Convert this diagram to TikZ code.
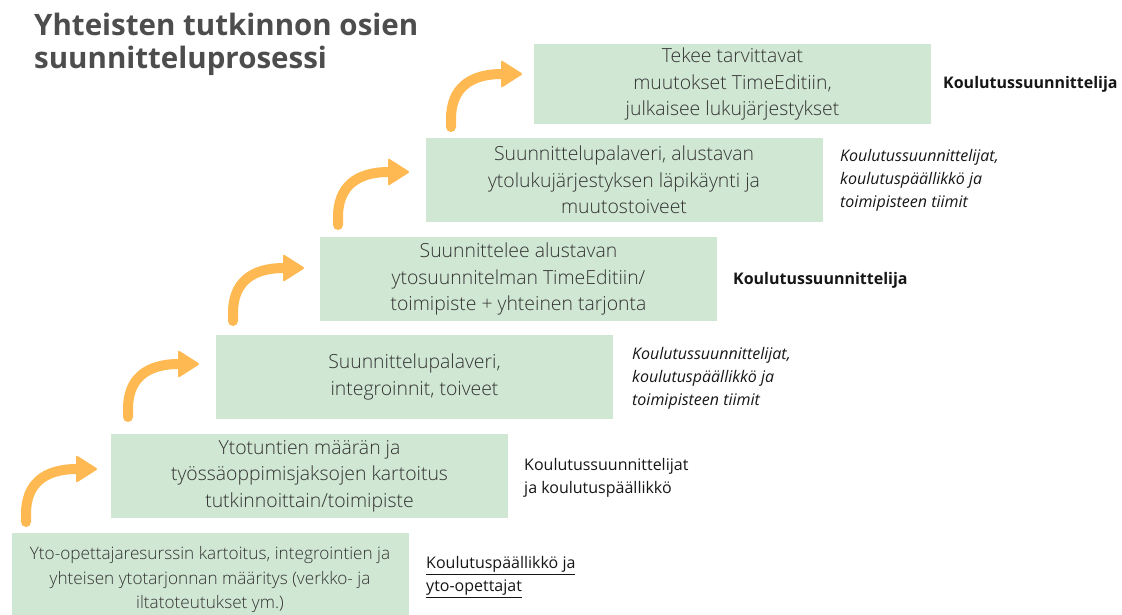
\documentclass[tikz,border=0pt]{standalone}
\usepackage{fontspec}
\setmainfont{Open Sans}
\IfFontExistsTF{Open Sans Light}
  {\newfontfamily\lightfont{Open Sans Light}\def\boxsize{19.4}\def\boxonesize{17.2}}
  {\newfontfamily\lightfont{Open Sans}\def\boxsize{18.7}\def\boxonesize{16.6}}
\begin{document}
\begin{tikzpicture}[x=1pt,y=-1pt]
\definecolor{boxgreen}{HTML}{D0E7D3}
\definecolor{arroworange}{HTML}{FFB952}
\definecolor{boxtxt}{HTML}{333333}
\definecolor{titlegray}{HTML}{4D4D4D}
\definecolor{lbl}{HTML}{161616}
\tikzset{
  stepbox/.style={fill=boxgreen, draw=none, minimum width=397pt, minimum height=84pt, inner sep=0pt,
    align=center, text=boxtxt, font=\lightfont\fontsize{\boxsize}{26.5}\selectfont},
  boxtext/.style={align=center, text=boxtxt, font=\lightfont\fontsize{\boxonesize}{24.5}\selectfont, inner sep=0pt},
  rolebold/.style={anchor=west, inner sep=0pt, text=lbl, font=\fontsize{16}{18}\selectfont\bfseries},
  roleit/.style={anchor=west, inner sep=0pt, align=left, text=lbl, font=\fontsize{16}{23}\selectfont\itshape},
  roleplain/.style={anchor=west, inner sep=0pt, align=left, text=lbl, font=\fontsize{16}{23}\selectfont},
  steparrow/.pic={
    \draw[arroworange, line width=10pt, line cap=round]
      (0,0) -- (0,-8) .. controls (0,-38) and (18,-53) .. (51,-53);
    \fill[arroworange, rounded corners=2pt] (50,-67) -- (72,-53) -- (50,-39) -- cycle;
  }
}
\useasboundingbox (0,0) rectangle (1122,615);

% title
\node[anchor=north west, inner sep=0pt, align=left, text=titlegray,
  font=\fontsize{29.5}{33}\selectfont\bfseries] (title) at (34,13)
  {Yhteisten tutkinnon osien\\suunnitteluprosessi};

% boxes
\node[stepbox, minimum height=82pt] (b1) at (210,574) {};
\node[boxtext] (t1) at (210,580) {Yto-opettajaresurssin kartoitus, integrointien ja\\yhteisen ytotarjonnan määritys (verkko- ja\\iltatoteutukset ym.)};
\node[stepbox] (b2) at (309.5,476) {Ytotuntien määrän ja\\työssäoppimisjaksojen kartoitus\\tutkinnoittain/toimipiste};
\node[stepbox] (b3) at (414.5,377) {Suunnittelupalaveri,\\integroinnit, toiveet};
\node[stepbox] (b4) at (518.5,279) {Suunnittelee alustavan\\ytosuunnitelman TimeEditiin/\\toimipiste + yhteinen tarjonta};
\node[stepbox] (b5) at (624,180) {Suunnittelupalaveri, alustavan\\ytolukujärjestyksen läpikäynti ja\\muutostoiveet};
\node[stepbox, minimum height=80pt] (b6) at (732.5,84) {Tekee tarvittavat\\muutokset TimeEditiin,\\julkaisee lukujärjestykset};

% arrows
\pic at (26,522) {steparrow};
\pic at (128,417) {steparrow};
\pic at (233,321) {steparrow};
\pic at (338,225) {steparrow};
\pic at (451,127) {steparrow};

% roles
\node[roleplain] (r1) at (426,577) {\underline{Koulutuspäällikkö ja}\\\underline{yto-opettajat}};
\node[roleplain] (r2) at (524,478) {Koulutussuunnittelijat\\ja koulutuspäällikkö};
\node[roleit] (r3) at (632,378) {Koulutussuunnittelijat,\\koulutuspäällikkö ja\\toimipisteen tiimit};
\node[rolebold] (r4) at (733,280) {Koulutussuunnittelija};
\node[roleit] (r5) at (840,180) {Koulutussuunnittelijat,\\koulutuspäällikkö ja\\toimipisteen tiimit};
\node[rolebold] (r6) at (943,84) {Koulutussuunnittelija};
\end{tikzpicture}
\end{document}
